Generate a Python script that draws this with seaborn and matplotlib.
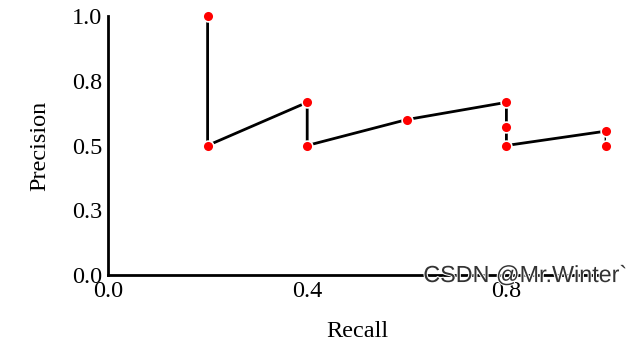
import matplotlib
matplotlib.use("Agg")
import matplotlib.pyplot as plt
import seaborn as sns
import pandas as pd
import matplotlib.patheffects as pe

recall = [0.2, 0.2, 0.4, 0.4, 0.6, 0.8, 0.8, 0.8, 1.0, 1.0]
precision = [1/1, 1/2, 2/3, 2/4, 3/5, 4/6, 4/7, 4/8, 5/9, 5/10]
x_ticks = [0.0, 0.4, 0.8]
y_ticks = [0.0, 0.25, 0.5, 0.75, 1.0]
y_tick_labels = ["0.0", "0.3", "0.5", "0.8", "1.0"]

df = pd.DataFrame({"Recall": recall, "Precision": precision})

sns.set_style("white")
plt.rcParams["font.family"] = ["Liberation Serif", "DejaVu Serif"]

fig = plt.figure(figsize=(6.37, 3.51), dpi=100)
ax = fig.add_axes([108/637, (351-275)/351, 498/637, 259/351])

sns.lineplot(data=df, x="Recall", y="Precision", sort=False, estimator=None,
             color="black", linewidth=2.0, ax=ax)
sns.scatterplot(data=df, x="Recall", y="Precision", color="red", s=60,
                edgecolor="white", linewidth=1.2, zorder=5, clip_on=False, ax=ax)

ax.set_xlim(0, 1.0)
ax.set_ylim(0, 1.0)
ax.set_xticks(x_ticks)
ax.set_xticklabels([f"{v:.1f}" for v in x_ticks])
ax.set_yticks(y_ticks)
ax.set_yticklabels(y_tick_labels)
ax.tick_params(axis="both", length=0, labelsize=17.5, colors="black", pad=4)
for side in ["top", "right"]:
    ax.spines[side].set_visible(False)
for side in ["left", "bottom"]:
    ax.spines[side].set_color("black")
    ax.spines[side].set_linewidth(2.0)
ax.set_xlabel("Recall", fontsize=17.5, labelpad=14, color="black")
ax.set_ylabel("Precision", fontsize=17.5, labelpad=16, color="black")

fig.text(0.985, 0.215, "CSDN @Mr.Winter`", ha="right", va="center",
         fontsize=16.8, family=["Liberation Sans", "DejaVu Sans"], color="#333333",
         path_effects=[pe.withStroke(linewidth=1.5, foreground="white")])

fig.savefig("out.png", dpi=100)
